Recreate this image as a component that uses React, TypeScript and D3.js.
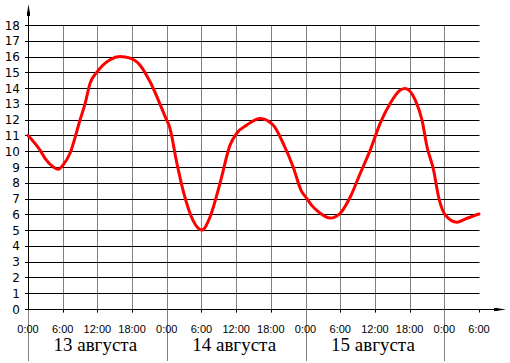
import React from "react";
import * as d3 from "d3";

const hours = [0, 2.08, 2.94, 4.38, 5.24, 6.0, 7.27, 9.0, 9.86, 10.73, 11.89, 14.19, 15.92, 17.65, 19.38, 21.11, 23.83, 24.52, 25.74, 26.83, 28.56, 30.06, 31.5, 33.23, 34.96, 36.12, 37.85, 40.15, 42.4, 44.13, 45.86, 47.25, 48.23, 49.1, 50.54, 52.27, 54.0, 55.73, 57.46, 59.19, 60.92, 62.65, 64.38, 65.25, 66.98, 68.14, 69.0, 70.15, 71.01, 72.17, 74.2, 75.93, 78];
const values = [11.0, 10.07, 9.55, 9.0, 8.85, 9.1, 9.87, 11.98, 13.0, 14.3, 15.0, 15.8, 16.0, 15.9, 15.45, 14.4, 12.1, 11.5, 9.25, 7.5, 5.6, 5.0, 5.85, 8.0, 10.4, 11.15, 11.66, 12.08, 11.66, 10.5, 9.0, 7.5, 7.0, 6.55, 6.07, 5.76, 6.07, 7.1, 8.6, 10.07, 11.78, 13.04, 13.88, 13.98, 13.24, 11.98, 10.3, 8.8, 7.1, 5.96, 5.5, 5.75, 6.02];

const yTicks = d3.range(0, 19);
const xTickHours = d3.range(0, 79, 6);
const xTickLabels = ["0:00", "6:00", "12:00", "18:00", "0:00", "6:00", "12:00", "18:00", "0:00", "6:00", "12:00", "18:00", "0:00", "6:00"];
const dayLabels = ["13 августа", "14 августа", "15 августа"];
const dayStarts = [0, 24, 48];

export default function App() {
  const W = 510, H = 363;
  const x = d3.scaleLinear().domain([0, 78]).range([28, 479]);
  const y = d3.scaleLinear().domain([0, 18]).range([309, 25]);
  const px = (v: number) => Math.round(v) + 0.5;
  const pts = hours.map((h, i) => [x(h), y(values[i])] as [number, number]);
  const line = d3.line().curve(d3.curveMonotoneX)(pts) || "";
  const axisY = px(y(0));
  const axisX = px(x(0));
  return (
    <svg width={W} height={H} style={{ position: "absolute", left: 0, top: 0, background: "#fff" }}>
      {/* vertical gray grid */}
      {xTickHours.filter((h) => h < 78).map((h) => (
        <line key={"vg" + h} x1={px(x(h))} x2={px(x(h))} y1={px(y(18))} y2={h % 24 === 0 ? 361 : axisY + 3} stroke="#808080" strokeWidth={1} />
      ))}
      {/* horizontal black grid */}
      {yTicks.map((t) => (
        <line key={"hg" + t} x1={25} x2={t === 0 ? 500 : px(x(78))} y1={px(y(t))} y2={px(y(t))} stroke="#000" strokeWidth={1} />
      ))}
      {/* x axis ticks */}
      {xTickHours.map((h) => (
        <line key={"xt" + h} x1={px(x(h))} x2={px(x(h))} y1={axisY} y2={axisY + 3} stroke={h % 24 === 0 && h < 78 ? "#808080" : "#000"} strokeWidth={1} />
      ))}
      {/* y axis */}
      <line x1={axisX} x2={axisX} y1={axisY} y2={12} stroke="#000" strokeWidth={1} />
      <path d={`M${axisX - 1.5},14 L${axisX},4 L${axisX + 1.5},14 Z`} fill="#000" />
      <line x1={axisX - 1} x2={axisX - 1} y1={12} y2={16} stroke="#000" strokeWidth={1} />
      <line x1={axisX + 1} x2={axisX + 1} y1={12} y2={16} stroke="#000" strokeWidth={1} />
      {/* x axis arrow */}
      <path d={`M496,${axisY - 1.5} L506,${axisY} L496,${axisY + 1.5} Z`} fill="#000" />
      <line x1={494} x2={498} y1={axisY - 1} y2={axisY - 1} stroke="#000" />
      <line x1={494} x2={498} y1={axisY + 1} y2={axisY + 1} stroke="#000" />
      {/* y labels */}
      {yTicks.map((t) => (
        <text key={"yl" + t} x={20} y={y(t) + 4.5} textAnchor="end" fontFamily="DejaVu Sans, sans-serif" fontSize={12} fill="#000">
          {t}
        </text>
      ))}
      {/* x labels */}
      {xTickHours.map((h, i) => (
        <text key={"xl" + h} x={x(h)} y={333} textAnchor="middle" fontFamily="Liberation Sans, Arial, sans-serif" fontSize={11} fill="#000">
          {xTickLabels[i]}
        </text>
      ))}
      {/* day labels */}
      {dayLabels.map((d, i) => (
        <text key={"dl" + i} x={x(dayStarts[i] + 12) - 2} y={351} textAnchor="middle" fontFamily="Liberation Serif, Times New Roman, serif" fontSize={19} fill="#000">
          {d}
        </text>
      ))}
      {/* curve */}
      <path d={line} fill="none" stroke="#ff0000" strokeWidth={3} strokeLinejoin="round" strokeLinecap="round" />
    </svg>
  );
}
